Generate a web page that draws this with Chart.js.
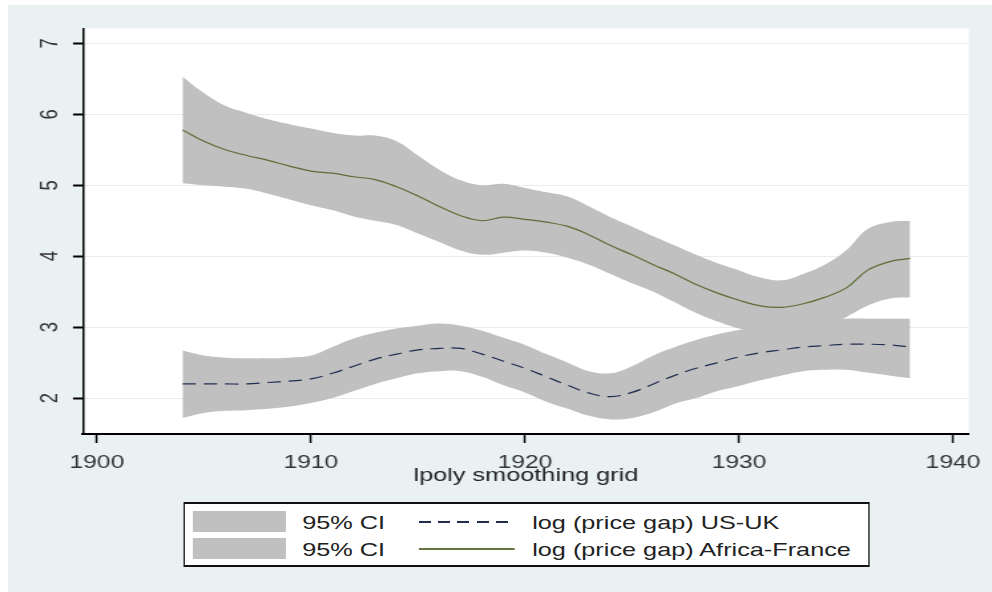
<!DOCTYPE html>
<html>
<head>
<meta charset="utf-8">
<script src="https://cdn.jsdelivr.net/npm/chart.js@4/dist/chart.umd.min.js"></script>
<style>
  body { margin: 0; background: #fff; font-family: "Liberation Sans", Arial, sans-serif; }
  #bg { position: absolute; left: 8px; top: 5px; width: 984px; height: 587px; background: #e9f1f3; overflow: hidden; }
  /* the Stata export is stretched sideways, so draw narrow and scale up */
  #stretch { position: absolute; left: 0; top: 0; width: 740px; height: 587px; transform: scaleX(1.3297); transform-origin: 0 0; }
  #legend { position: absolute; left: 131.6px; top: 497px; width: 516.7px; height: 65px; box-sizing: border-box;
            border-style: solid; border-color: #111; border-width: 2px 1.5px; background: #fff; }
  #legend div { position: absolute; }
  .sw { left: 6px; width: 70.7px; height: 21px; background: #c0c0c0; }
  .txt { font-size: 19px; line-height: 21px; color: #222; white-space: nowrap; }
  .dash { left: 176.7px; width: 71.4px; height: 1.5px;
          background: repeating-linear-gradient(90deg, #1f2d4f 0 9px, transparent 9px 14.5px); }
  .solid { left: 176.7px; width: 71.4px; height: 1.5px; background: #66763f; }
</style>
</head>
<body>
<div id="bg">
  <div id="stretch">
    <canvas id="chart" width="740" height="587" style="width:740px;height:587px"></canvas>
    <div id="legend">
      <div class="sw" style="top:7px"></div>
      <div class="txt" style="left:88.7px;top:7.5px">95% CI</div>
      <div class="dash" style="top:17.25px"></div>
      <div class="txt" style="left:261.6px;top:7.5px">log (price gap) US-UK</div>
      <div class="sw" style="top:34px"></div>
      <div class="txt" style="left:88.7px;top:34.5px">95% CI</div>
      <div class="solid" style="top:44.25px"></div>
      <div class="txt" style="left:261.6px;top:34.5px">log (price gap) Africa-France</div>
    </div>
  </div>
</div>
<script>
var years = [1904, 1905, 1906, 1907, 1908, 1909, 1910, 1911, 1912, 1913,
             1914, 1915, 1916, 1917, 1918, 1919, 1920, 1921, 1922, 1923,
             1924, 1925, 1926, 1927, 1928, 1929, 1930, 1931, 1932, 1933,
             1934, 1935, 1936, 1937, 1938];

// log (price gap) Africa-France and its 95% CI
var afLine = [5.78, 5.62, 5.50, 5.42, 5.35, 5.27, 5.20, 5.17, 5.12, 5.08,
              4.98, 4.85, 4.70, 4.57, 4.50, 4.55, 4.52, 4.48, 4.42, 4.30,
              4.15, 4.02, 3.88, 3.75, 3.60, 3.48, 3.38, 3.30, 3.28, 3.33,
              3.42, 3.55, 3.80, 3.92, 3.97];
var afUpper = [6.53, 6.30, 6.12, 6.02, 5.93, 5.86, 5.80, 5.74, 5.70, 5.70,
               5.62, 5.42, 5.22, 5.07, 5.00, 5.02, 4.96, 4.90, 4.84, 4.70,
               4.55, 4.42, 4.28, 4.15, 4.02, 3.90, 3.80, 3.70, 3.66, 3.75,
               3.88, 4.08, 4.38, 4.48, 4.50];
var afLower = [5.03, 5.00, 4.98, 4.95, 4.88, 4.80, 4.72, 4.65, 4.56, 4.50,
               4.44, 4.32, 4.20, 4.08, 4.02, 4.05, 4.08, 4.05, 3.98, 3.88,
               3.75, 3.62, 3.50, 3.35, 3.20, 3.08, 2.98, 2.90, 2.88, 2.93,
               3.00, 3.14, 3.30, 3.40, 3.42];

// log (price gap) US-UK and its 95% CI
var usLine = [2.20, 2.20, 2.20, 2.20, 2.22, 2.24, 2.27, 2.35, 2.45, 2.55,
              2.62, 2.68, 2.70, 2.70, 2.62, 2.52, 2.42, 2.30, 2.18, 2.07,
              2.02, 2.08, 2.20, 2.32, 2.42, 2.50, 2.58, 2.64, 2.68, 2.72,
              2.74, 2.76, 2.76, 2.75, 2.72];
var usUpper = [2.67, 2.60, 2.57, 2.56, 2.56, 2.57, 2.60, 2.72, 2.84, 2.92,
               2.98, 3.02, 3.05, 3.02, 2.95, 2.85, 2.75, 2.62, 2.50, 2.38,
               2.35, 2.45, 2.60, 2.72, 2.82, 2.90, 2.96, 3.02, 3.06, 3.08,
               3.10, 3.12, 3.12, 3.12, 3.12];
var usLower = [1.72, 1.79, 1.82, 1.83, 1.85, 1.88, 1.93, 2.00, 2.10, 2.20,
               2.28, 2.35, 2.38, 2.38, 2.30, 2.18, 2.08, 1.95, 1.85, 1.75,
               1.70, 1.72, 1.80, 1.92, 2.00, 2.10, 2.17, 2.25, 2.32, 2.38,
               2.40, 2.40, 2.36, 2.32, 2.28];

var xTicks = [1900, 1910, 1920, 1930, 1940];
var yTicks = [2, 3, 4, 5, 6, 7];

var bandColor = '#c0c0c0';

function pts(arr) {
    return years.map(function (x, i) { return { x: x, y: arr[i] }; });
}

function band(arr, fill) {
    return { data: pts(arr), fill: fill, backgroundColor: bandColor, borderWidth: 0,
             pointRadius: 0, tension: 0.4, order: 3 };
}

// white plot region on the tinted page
var plotBg = {
    id: 'plotBg',
    beforeDraw: function (chart) {
        var a = chart.chartArea, ctx = chart.ctx;
        ctx.save();
        ctx.fillStyle = '#fff';
        ctx.fillRect(a.left, a.top, a.right - a.left, a.bottom - a.top);
        ctx.restore();
    }
};

var ctx = document.getElementById('chart').getContext('2d');
var chart = new Chart(ctx, {
    type: 'line',
    data: {
        datasets: [
            band(usUpper, '+1'),
            band(usLower, false),
            band(afUpper, '+1'),
            band(afLower, false),
            {
                label: 'log (price gap) US-UK',
                data: pts(usLine),
                borderColor: '#1f2d4f',
                borderWidth: 1.2,
                borderDash: [10, 6],
                pointRadius: 0,
                tension: 0.4,
                fill: false,
                order: 1
            },
            {
                label: 'log (price gap) Africa-France',
                data: pts(afLine),
                borderColor: '#5d6e36',
                borderWidth: 1.2,
                pointRadius: 0,
                tension: 0.4,
                fill: false,
                order: 1
            }
        ]
    },
    options: {
        responsive: false,
        animation: false,
        layout: { padding: { left: 0, right: 14.3, top: 22, bottom: 103 } },
        plugins: { legend: { display: false }, tooltip: { enabled: false } },
        scales: {
            x: {
                type: 'linear',
                min: 1899.35,
                max: 1940.74,
                afterBuildTicks: function (s) { s.ticks = xTicks.map(function (v) { return { value: v }; }); },
                afterFit: function (s) { s.height = 55; },
                border: { color: '#000', width: 2 },
                grid: { drawOnChartArea: false, drawTicks: true, tickLength: 9, tickColor: '#000', tickWidth: 1.5 },
                ticks: {
                    autoSkip: false, maxRotation: 0, padding: 8.5, color: '#333',
                    font: { family: 'Liberation Sans, Arial', size: 18.5 },
                    callback: function (v) { return String(v); }
                },
                title: {
                    display: true, text: 'lpoly smoothing grid', color: '#222',
                    font: { family: 'Liberation Sans, Arial', size: 19 },
                    padding: { top: 0, bottom: 2 }
                }
            },
            y: {
                min: 1.494,
                max: 7.211,
                afterBuildTicks: function (s) { s.ticks = yTicks.map(function (v) { return { value: v }; }); },
                afterFit: function (s) { s.width = 56.4; },
                border: { color: '#000', width: 1.5 },
                grid: { color: '#ebebeb', lineWidth: 1, tickLength: 7.5, tickColor: '#000', tickWidth: 2 },
                ticks: {
                    autoSkip: false, minRotation: 90, maxRotation: 90, crossAlign: 'center',
                    padding: 12.3, color: '#333',
                    font: { family: 'Liberation Sans, Arial', size: 18.5 }
                }
            }
        }
    },
    plugins: [plotBg]
});
</script>
</body>
</html>
